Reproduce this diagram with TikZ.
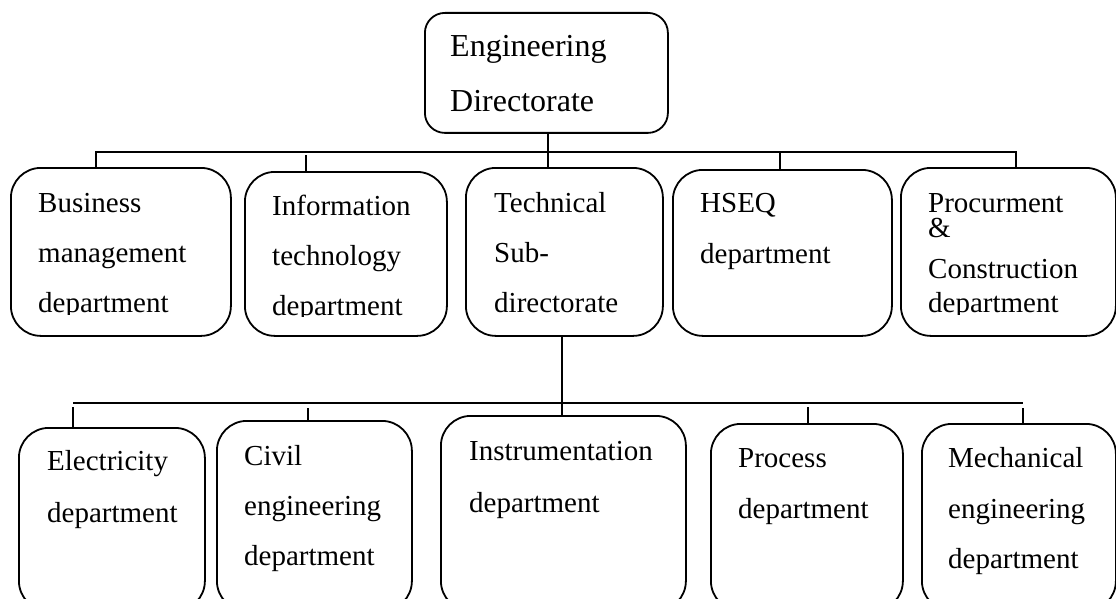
\documentclass[tikz,border=0pt]{standalone}
\usepackage{fontspec}
\setmainfont{Liberation Serif}
\begin{document}
\begin{tikzpicture}[x=1pt, y=-1pt,
  unit/.style={draw=black, line width=1.8pt, rounded corners=#1, inner sep=0pt, anchor=north west},
  unit/.default=30pt,
  link/.style={draw=black, line width=1.8pt},
  rail/.style={draw=black, line width=2.6pt},
  txt/.style={anchor=base west, inner sep=0pt, font=\fontsize{29}{35}\selectfont},
  head/.style={anchor=base west, inner sep=0pt, font=\fontsize{32}{38}\selectfont}]
\useasboundingbox (0,0) rectangle (1116,599);

% ---- boxes ----
\node[unit=20pt, minimum width=243pt, minimum height=120pt] (top) at (424,12) {};

\node[unit, minimum width=220pt, minimum height=168pt] (bus) at (10,167) {};
\node[unit, minimum width=202pt, minimum height=164pt] (inf) at (244,171) {};
\node[unit, minimum width=197pt, minimum height=168pt] (tec) at (465,167) {};
\node[unit, minimum width=219pt, minimum height=166pt] (hse) at (672,169) {};
\node[unit, minimum width=215pt, minimum height=168pt] (pro) at (900,167) {};

\node[unit, minimum width=186pt, minimum height=183pt] (ele) at (18,427) {};
\node[unit, minimum width=195pt, minimum height=190pt] (civ) at (216,420) {};
\node[unit, minimum width=245pt, minimum height=195pt] (ins) at (440,415) {};
\node[unit, minimum width=192pt, minimum height=187pt] (prc) at (710,423) {};
\node[unit, minimum width=194pt, minimum height=187pt] (mec) at (921,423) {};

% ---- upper connectors ----
\coordinate (j1) at (96,152);
\coordinate (j2) at (306,155);
\coordinate (j3) at (548,152);
\coordinate (j4) at (780,152);
\coordinate (j5) at (1016,152);
\draw[link] (j1 |- bus.north) -- (j1) -- (j5) -- (j5 |- pro.north);
\draw[link] (j2) -- (j2 |- inf.north);
\draw[link] (j3 |- top.south) -- (j3 |- tec.north);
\draw[link] (j4) -- (j4 |- hse.north);

% ---- lower connectors ----
\coordinate (k0) at (562,403);
\coordinate (k1) at (73,403);
\coordinate (k5) at (1023,403);
\coordinate (t1) at (73,407);
\coordinate (t2) at (308,408);
\coordinate (t4) at (808,407);
\coordinate (t5) at (1023,408);
\draw[link] (k0 |- tec.south) -- (k0 |- ins.north);
\draw[rail] (k1) -- (k5);
\draw[link] (t1) -- (t1 |- ele.north);
\draw[link] (t2) -- (t2 |- civ.north);
\draw[link] (t4) -- (t4 |- prc.north);
\draw[link] (t5) -- (t5 |- mec.north);

% ---- labels ----
\node[head] (top1) at (450,57) {Engineering};
\node[head] (top2) at (450,112) {Directorate};

\node[txt] (bus1) at (38,212) {Business};
\node[txt] (bus2) at (38,262) {management};
\node[txt] (inf1) at (272,215) {Information};
\node[txt] (inf2) at (272,265) {technology};
\node[txt] (tec1) at (494,212) {Technical};
\node[txt] (tec2) at (494,262) {Sub-};
\node[txt] (tec3) at (494,312) {directorate};
\node[txt] (hse1) at (700,212) {HSEQ};
\node[txt] (hse2) at (700,263) {department};
\node[txt] (pro1) at (928,212) {Procurment};
\node[txt] (pro2) at (928,237) {\&};
\node[txt] (pro3) at (928,278) {Construction};

% last lines cut off by the text frames
\begin{scope}
  \clip (0,0) rectangle (1116,314);
  \node[txt] (bus3) at (38,312) {department};
  \node[txt] (pro4) at (928,312) {department};
\end{scope}
\begin{scope}
  \clip (0,0) rectangle (1116,316.5);
  \node[txt] (inf3) at (272,315) {department};
\end{scope}

\node[txt] (ele1) at (47,470) {Electricity};
\node[txt] (ele2) at (47,522) {department};
\node[txt] (civ1) at (244,465) {Civil};
\node[txt] (civ2) at (244,515) {engineering};
\node[txt] (civ3) at (244,565) {department};
\node[txt] (ins1) at (469,460) {Instrumentation};
\node[txt] (ins2) at (469,512) {department};
\node[txt] (prc1) at (738,467) {Process};
\node[txt] (prc2) at (738,518) {department};
\node[txt] (mec1) at (948,467) {Mechanical};
\node[txt] (mec2) at (948,518) {engineering};
\node[txt] (mec3) at (948,568) {department};
\end{tikzpicture}
\end{document}
